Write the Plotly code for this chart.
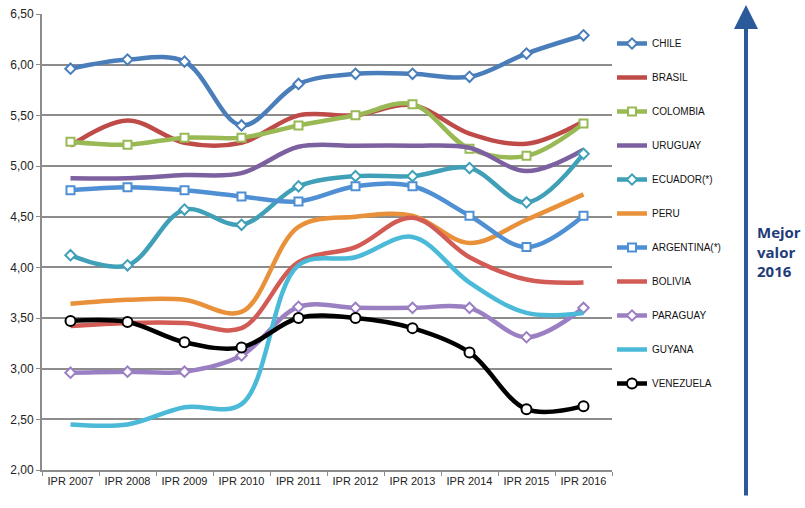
import plotly.graph_objects as go

years = ["IPR 2007", "IPR 2008", "IPR 2009", "IPR 2010", "IPR 2011",
         "IPR 2012", "IPR 2013", "IPR 2014", "IPR 2015", "IPR 2016"]

chile     = [5.96, 6.05, 6.03, 5.40, 5.81, 5.91, 5.91, 5.88, 6.11, 6.29]
brasil    = [5.20, 5.45, 5.23, 5.23, 5.50, 5.50, 5.60, 5.32, 5.22, 5.44]
colombia  = [5.24, 5.21, 5.28, 5.28, 5.40, 5.50, 5.61, 5.17, 5.10, 5.42]
uruguay   = [4.88, 4.88, 4.91, 4.93, 5.19, 5.20, 5.20, 5.18, 4.95, 5.16]
ecuador   = [4.12, 4.02, 4.57, 4.42, 4.80, 4.90, 4.90, 4.98, 4.64, 5.12]
peru      = [3.64, 3.68, 3.68, 3.56, 4.40, 4.50, 4.51, 4.24, 4.47, 4.72]
argentina = [4.76, 4.79, 4.76, 4.70, 4.65, 4.80, 4.80, 4.51, 4.20, 4.51]
bolivia   = [3.42, 3.45, 3.45, 3.40, 4.05, 4.20, 4.49, 4.10, 3.88, 3.85]
paraguay  = [2.96, 2.97, 2.97, 3.13, 3.61, 3.60, 3.60, 3.60, 3.31, 3.60]
guyana    = [2.45, 2.45, 2.62, 2.65, 4.02, 4.10, 4.30, 3.85, 3.55, 3.55]
venezuela = [3.47, 3.46, 3.26, 3.21, 3.50, 3.50, 3.40, 3.16, 2.60, 2.63]

series = [
    ("CHILE", chile, "#4A7EBB", "diamond", 8),
    ("BRASIL", brasil, "#BE4B48", None, 0),
    ("COLOMBIA", colombia, "#98B954", "square", 8),
    ("URUGUAY", uruguay, "#7D60A0", None, 0),
    ("ECUADOR(*)", ecuador, "#3FA0B8", "diamond", 8),
    ("PERU", peru, "#E8913A", None, 0),
    ("ARGENTINA(*)", argentina, "#4F8FD4", "square", 8),
    ("BOLIVIA", bolivia, "#D25B55", None, 0),
    ("PARAGUAY", paraguay, "#9B7FC3", "diamond", 8),
    ("GUYANA", guyana, "#4BBAD8", None, 0),
    ("VENEZUELA", venezuela, "#000000", "circle", 10),
]

fig = go.Figure()
for name, vals, color, sym, size in series:
    mode = "lines+markers" if sym else "lines"
    kw = {}
    if sym:
        kw["marker"] = dict(symbol=sym, size=size, color="white",
                            line=dict(color=color, width=2))
    fig.add_trace(go.Scatter(
        x=years, y=vals, name=name, mode=mode, legendgroup=name,
        line=dict(color=color, width=4.5, shape="spline", smoothing=1),
        **kw))

L, R, T, B = 42, 193, 14, 38
PW = 805 - L - R
PH = 508 - T - B

fig.update_layout(
    width=805, height=508,
    margin=dict(l=L, r=R, t=T, b=B, autoexpand=False),
    paper_bgcolor="white", plot_bgcolor="white",
    separators=",.",
    font=dict(family="Liberation Sans, Arial, sans-serif", size=11, color="#222222"),
    showlegend=True,
    legend=dict(x=(612 - L) / PW, xanchor="left", y=(470 - 29) / PH, yanchor="top",
                font=dict(size=10, color="#111111"),
                tracegroupgap=15, itemwidth=30,
                bgcolor="rgba(0,0,0,0)"),
    xaxis=dict(type="category", range=[-0.5, 9.5], showgrid=False,
               automargin=False,
               showline=True, linecolor="#8C8C8C", linewidth=2,
               ticks="outside", tickson="boundaries", ticklen=4,
               tickcolor="#8C8C8C", tickwidth=1,
               tickfont=dict(size=11, color="#222222")),
    yaxis=dict(range=[2, 6.5], dtick=0.5, tickformat=".2f",
               automargin=False,
               showgrid=True, gridcolor="#8C8C8C", gridwidth=2,
               showline=True, linecolor="#8C8C8C", linewidth=2,
               ticks="outside", ticklen=4, tickcolor="#8C8C8C",
               zeroline=False,
               tickfont=dict(size=12, color="#222222")),
)

fig.add_annotation(
    xref="paper", yref="paper", x=(746 - L) / PW, y=(470 - 5) / PH,
    ax=0, ay=492, axref="pixel", ayref="pixel",
    showarrow=True, arrowhead=2, arrowsize=1.2, arrowwidth=4,
    arrowcolor="#2A5A9A", text="")

fig.add_annotation(
    xref="paper", yref="paper", x=(755 - L) / PW, y=(470 - 251) / PH,
    xanchor="left", yanchor="middle", showarrow=False, align="left",
    text="<b>Mejor<br>valor<br>2016</b>",
    font=dict(family="Open Sans, sans-serif", size=15, color="#1F3B7A"))

fig.write_html("out.html", config={"displayModeBar": False},
               post_script="document.body.style.margin='0';")
